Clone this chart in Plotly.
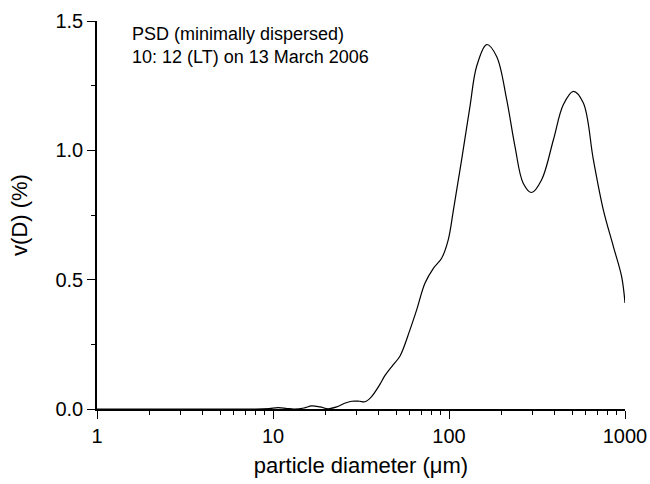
import plotly.graph_objects as go

# particle diameter (um) and volume fraction v(D) (%)
diameter = [1, 5, 8, 9.5, 10.7, 12, 13.2, 15, 16.6, 18.5, 20.6, 23, 25.5, 28, 31, 33.3,
            36, 40.5, 43.3, 48, 52.7, 60, 65.5, 73, 81.5, 90.8, 99, 106, 113, 118, 131.6, 143.6,
            163.7, 186.5, 212.7, 237, 264, 295, 336, 392, 446, 509, 580, 661, 753, 859, 957, 1000]
vd = [0, 0, 0, 0.002, 0.005, 0.002, 0, 0.004, 0.012, 0.008, 0.001, 0.008, 0.022, 0.03, 0.03, 0.028,
      0.045, 0.095, 0.13, 0.17, 0.205, 0.306, 0.383, 0.486, 0.544, 0.583, 0.654, 0.77, 0.886, 0.964, 1.17, 1.325,
      1.409, 1.363, 1.196, 1.015, 0.873, 0.837, 0.886, 1.041, 1.176, 1.228, 1.183, 0.964, 0.77, 0.628, 0.512, 0.41]

x_major = [1, 10, 100, 1000]
x_major_labels = ["1", "10", "100", "1000"]
x_minor = [m * d for d in (1, 10, 100) for m in range(2, 10)]
y_major = [0.0, 0.5, 1.0, 1.5]
y_major_labels = ["0.0", "0.5", "1.0", "1.5"]
y_minor = [0.25, 0.75, 1.25]

FONT = "Liberation Sans, Arial, sans-serif"

fig = go.Figure()
fig.add_trace(go.Scatter(x=diameter, y=vd, mode="lines",
                         line=dict(color="black", width=1.2, shape="spline", smoothing=1.0),
                         showlegend=False, cliponaxis=False))

fig.update_layout(
    width=650, height=484,
    margin=dict(l=97, r=25, t=21, b=75),
    paper_bgcolor="white", plot_bgcolor="white",
    font=dict(family=FONT, color="black", size=20),
    xaxis=dict(type="log", range=[0, 3], showgrid=False, zeroline=False, automargin=False,
               showline=True, linecolor="black", linewidth=1.5,
               ticks="outside", ticklen=8, tickwidth=1.3, tickcolor="black",
               tickvals=x_major, ticktext=x_major_labels,
               tickfont=dict(size=20),
               minor=dict(tickvals=x_minor, ticks="outside", ticklen=4, tickwidth=1.2,
                          tickcolor="black", showgrid=False),
               title=dict(text="particle diameter (\u03bcm)", font=dict(size=22), standoff=12)),
    yaxis=dict(range=[0, 1.5], showgrid=False, zeroline=False, automargin=False,
               showline=True, linecolor="black", linewidth=1.5,
               ticks="outside", ticklen=8, tickwidth=1.3, tickcolor="black",
               tickvals=y_major, ticktext=y_major_labels,
               tickfont=dict(size=20),
               minor=dict(tickvals=y_minor, ticks="outside", ticklen=4, tickwidth=1.2,
                          tickcolor="black", showgrid=False),
               title=dict(text="v(D) (%)", font=dict(size=22), standoff=22)),
    annotations=[dict(text="PSD (minimally dispersed)<br>10: 12 (LT) on 13 March 2006",
                      xref="paper", yref="paper", x=0.062, y=0.997,
                      xanchor="left", yanchor="top", align="left", showarrow=False,
                      font=dict(size=18))],
)

fig.write_html("out.html")
